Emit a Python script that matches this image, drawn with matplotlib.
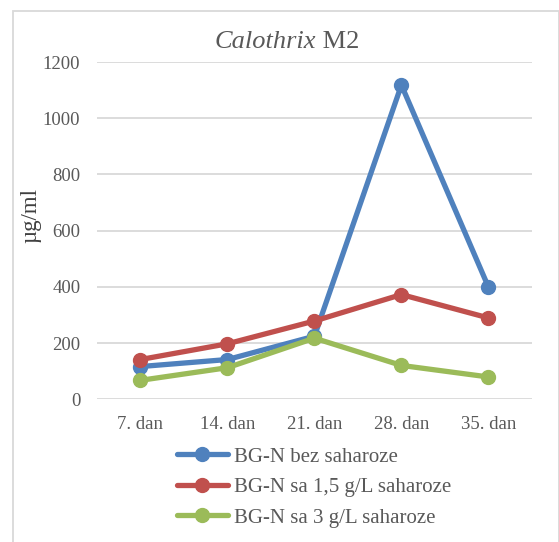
import matplotlib.pyplot as plt
from matplotlib.patches import Rectangle

plt.rcParams['font.family'] = ['Liberation Serif', 'DejaVu Serif']

# podaci
days = ['7. dan', '14. dan', '21. dan', '28. dan', '35. dan']
bez = [117, 142, 225, 1118, 400]
sa_15 = [142, 198, 279, 373, 290]
sa_3 = [68, 113, 218, 121, 80]

labels = ['BG-N bez saharoze', 'BG-N sa 1,5 g/L saharoze', 'BG-N sa 3 g/L saharoze']
colors = ['#4F81BD', '#C0504D', '#9BBB59']
txt = '#595959'

fig = plt.figure(figsize=(5.59, 5.42), dpi=100)
ax = fig.add_axes([0.1735, 0.263, 0.778, 0.6226])

x = range(len(days))
for vals, lab, col in zip([bez, sa_15, sa_3], labels, colors):
    ax.plot(x, vals, color=col, lw=3.8, marker='o', ms=10, label=lab,
            solid_capstyle='round', solid_joinstyle='round')

ax.set_xlim(-0.5, len(days) - 0.5)
ax.set_ylim(0, 1200)
ax.set_yticks(range(0, 1201, 200))
ax.set_xticks(list(x))
ax.set_xticklabels(days)
ax.tick_params(axis='both', length=0, labelsize=13.5, colors=txt)
ax.tick_params(axis='y', pad=12)
ax.tick_params(axis='x', pad=12)
ax.grid(axis='y', color='#D9D9D9', lw=1.3)
ax.set_axisbelow(True)
for s in ax.spines.values():
    s.set_visible(False)

ax.set_ylabel('µg/ml', fontsize=16.5, color='#404040')
ax.yaxis.set_label_coords(-0.127, 0.545)

# naslov
fig.text(0.565, 0.922, 'Calothrix', style='italic', fontsize=19, color=txt, ha='right', va='center')
fig.text(0.565, 0.922, ' M2', fontsize=19, color=txt, ha='left', va='center')

fig.legend(loc='upper left', bbox_to_anchor=(0.316, 0.175), frameon=False,
           fontsize=15, labelcolor=txt, handlelength=2.45, handletextpad=0.3,
           labelspacing=0.52, borderaxespad=0, borderpad=0)

# okvir
fig.patches.append(Rectangle((13 / 559, -0.05), (545.5) / 559, 1 - 10.5 / 542 + 0.05,
                             transform=fig.transFigure, fill=False,
                             edgecolor='#D9D9D9', lw=1.3))

fig.savefig('out.png', dpi=100)
